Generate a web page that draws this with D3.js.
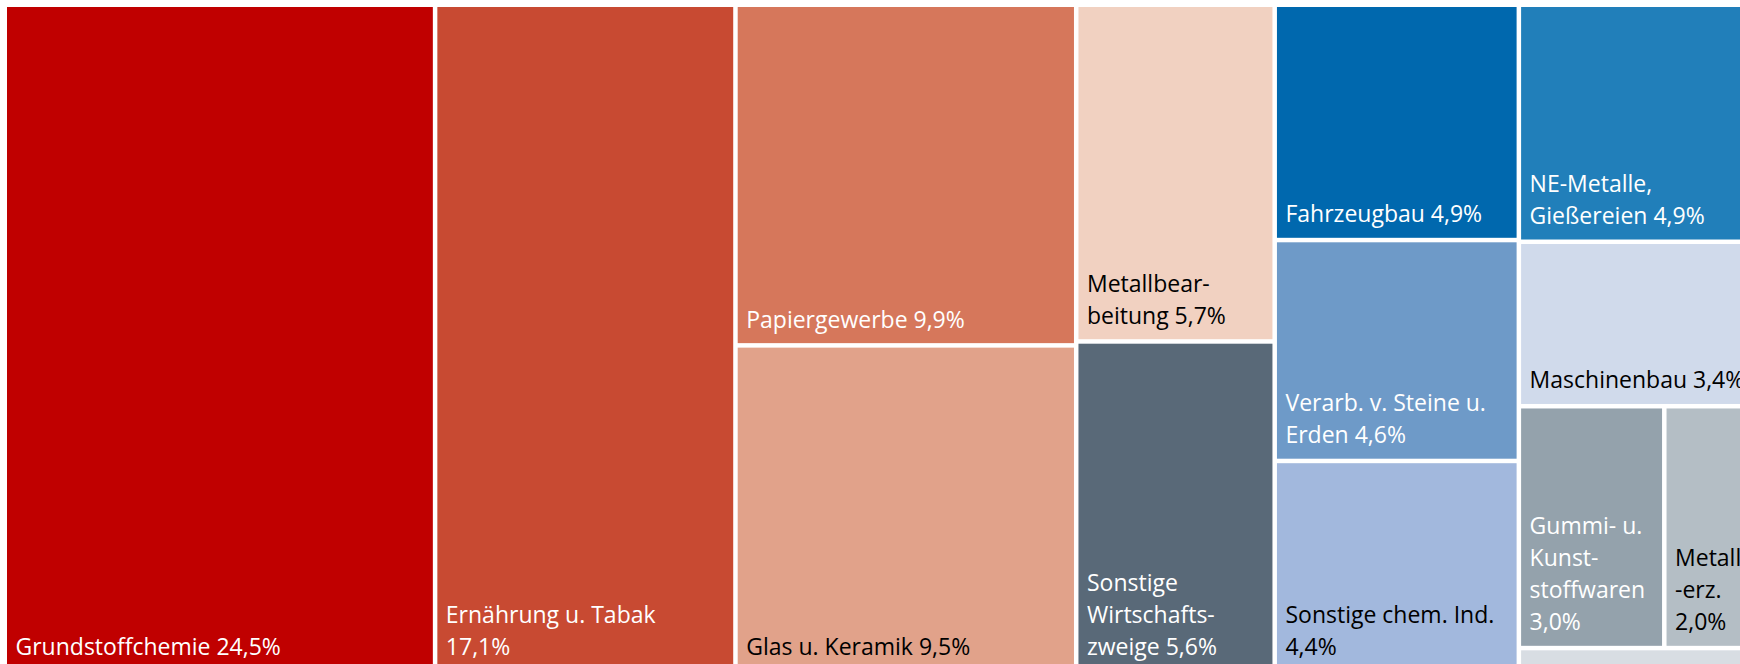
<!DOCTYPE html>
<html><head><meta charset="utf-8">
<script src="https://cdn.jsdelivr.net/npm/d3@7"></script>
<style>body{margin:0;background:#fff;overflow:hidden} svg{display:block}</style>
</head><body><svg id="c" width="1740" height="664"></svg>
<script>
// Data
const names = ["Grundstoffchemie","Ernährung u. Tabak","Papiergewerbe","Glas u. Keramik","Metallbearbeitung","Sonstige Wirtschaftszweige","Fahrzeugbau","Verarb. v. Steine u. Erden","Sonstige chem. Ind.","NE-Metalle, Gießereien","Maschinenbau","Gummi- u. Kunststoffwaren","Metallerzeugung","Übrige"];
const shares = [24.5,17.1,9.9,9.5,5.7,5.6,4.9,4.6,4.4,4.9,3.4,3.0,2.0,0.5];
const labelLines = [
  ["Grundstoffchemie 24,5%"],
  ["Ernährung u. Tabak","17,1%"],
  ["Papiergewerbe 9,9%"],
  ["Glas u. Keramik 9,5%"],
  ["Metallbear-","beitung 5,7%"],
  ["Sonstige","Wirtschafts-","zweige 5,6%"],
  ["Fahrzeugbau 4,9%"],
  ["Verarb. v. Steine u.","Erden 4,6%"],
  ["Sonstige chem. Ind.","4,4%"],
  ["NE-Metalle,","Gießereien 4,9%"],
  ["Maschinenbau 3,4%"],
  ["Gummi- u.","Kunst-","stoffwaren","3,0%"],
  ["Metall","-erz.","2,0%"],
  []
];
// grouping: column index, and optional sub-group within a column
const column = [0,1,2,2,3,3,4,4,4,5,5,5,5,5];
const subgroup = [null,null,null,null,null,null,null,null,null,null,null,"a","a",null];
const fills = ["#c00000","#c84a32","#d6775b","#e1a28a","#f1d1c1","#596978","#0068ae","#6e9ac8","#a2b8dd","#217fba","#d0daeb","#94a2ac","#b4bec5","#d8dde3"];
const textColors = ["#fff","#fff","#fff","#000","#000","#fff","#fff","#fff","#000","#fff","#000","#fff","#000","#000"];

// Build hierarchy
const cols = [];
names.forEach((n,i)=>{
  const leaf = {name:n, value:shares[i], lines:labelLines[i], fill:fills[i], tc:textColors[i]};
  let c = cols[column[i]] || (cols[column[i]] = {name:"col"+column[i], children:[]});
  if (subgroup[i]) {
    let g = c.children.find(d=>d.name===subgroup[i]);
    if (!g) { g = {name:subgroup[i], children:[]}; c.children.push(g); }
    g.children.push(leaf);
  } else c.children.push(leaf);
});
const rootData = {name:"root", children:cols};
const root = d3.hierarchy(rootData).sum(d=>d.children?0:d.value);

const X0 = 7, Y0 = 7, X1 = 1759, Y1 = 670;
d3.treemap()
  .tile(d3.treemapSliceDice)
  .size([X1-X0, Y1-Y0])
  .paddingInner(4.5)
  .round(false)(root);

const svg = d3.select("#c");
const g = svg.append("g").attr("transform",`translate(${X0},${Y0})`);
const leaves = g.selectAll("g.leaf").data(root.leaves()).join("g").attr("class","leaf");
leaves.append("rect")
  .attr("x",d=>d.x0).attr("y",d=>d.y0)
  .attr("width",d=>d.x1-d.x0).attr("height",d=>d.y1-d.y0)
  .attr("fill",d=>d.data.fill);

const fontSize = 23, lineH = 32;
leaves.each(function(d){
  const lines = d.data.lines;
  const n = lines.length;
  const t = d3.select(this).append("text")
    .attr("font-family","'Open Sans', sans-serif")
    .attr("font-size",fontSize)
    .attr("fill",d.data.tc);
  lines.forEach((ln,k)=>{
    t.append("tspan").attr("x",d.x0+8.5).attr("y",d.y1-15.5-(n-1-k)*lineH).text(ln);
  });
});
</script></body></html>
